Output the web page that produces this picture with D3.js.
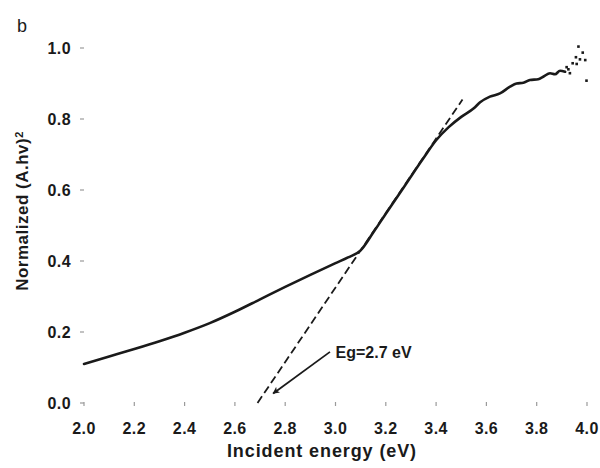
<!DOCTYPE html>
<html>
<head>
<meta charset="utf-8">
<script src="https://cdn.jsdelivr.net/npm/d3@7"></script>
<style>
  html, body { margin: 0; padding: 0; background: #fff; }
  svg { display: block; font-family: "Liberation Sans", Arial, Helvetica, sans-serif; }
</style>
</head>
<body>
<svg id="chart" width="600" height="468"></svg>
<script>
// ---- data ----
const xTicks = [2.0, 2.2, 2.4, 2.6, 2.8, 3.0, 3.2, 3.4, 3.6, 3.8, 4.0];
const yTicks = [0.0, 0.2, 0.4, 0.6, 0.8, 1.0];
const curveEnergy = [2.00, 2.10, 2.20, 2.30, 2.40, 2.50, 2.60, 2.70, 2.80, 2.90, 3.00, 3.05, 3.10, 3.15, 3.20, 3.25, 3.30, 3.35, 3.40, 3.45, 3.50, 3.55, 3.575, 3.614, 3.654, 3.694, 3.720, 3.747, 3.773, 3.806, 3.826, 3.853, 3.873, 3.893, 3.913];
const curveValue  = [0.110, 0.131, 0.152, 0.174, 0.198, 0.225, 0.257, 0.292, 0.327, 0.361, 0.394, 0.410, 0.430, 0.480, 0.533, 0.585, 0.638, 0.690, 0.740, 0.777, 0.806, 0.830, 0.847, 0.863, 0.872, 0.891, 0.900, 0.902, 0.910, 0.912, 0.919, 0.929, 0.926, 0.936, 0.933];
const dotEnergy = [3.919, 3.926, 3.932, 3.943, 3.956, 3.959, 3.966, 3.972, 3.983, 3.993, 3.998];
const dotValue  = [0.946, 0.940, 0.929, 0.957, 0.974, 0.955, 1.004, 0.968, 0.987, 0.966, 0.908];
const tangentEnergy = [2.69, 3.505];
const tangentValue  = [0.0, 0.855];
const annotText = "Eg=2.7 eV";
const annotFrom = [2.978, 0.144];
const annotTo   = [2.752, 0.027];
const annotTextPos = [3.000, 0.127];
const xTitle = "Incident energy (eV)";
const panelLabel = "b";

// ---- scales ----
const svg = d3.select("#chart");
const x = d3.scaleLinear().domain([2, 4]).range([84, 587]);
const y = d3.scaleLinear().domain([0, 1]).range([403, 48]);
const ink = "#1a1a1a";
const tickGrey = "#9a9a9a";

// y ticks
const yAxis = svg.append("g");
yAxis.selectAll("line").data(yTicks).join("line")
  .attr("x1", 80).attr("x2", 84)
  .attr("y1", d => y(d)).attr("y2", d => y(d))
  .attr("stroke", tickGrey).attr("stroke-width", 1.2);
yAxis.selectAll("text").data(yTicks).join("text")
  .attr("x", 71).attr("y", d => y(d)).attr("dy", "0.36em")
  .attr("text-anchor", "end").attr("font-size", 16).attr("font-weight", "bold")
  .attr("letter-spacing", 0.4)
  .attr("fill", ink).text(d => d3.format(".1f")(d));

// x ticks
const xAxis = svg.append("g");
xAxis.selectAll("line").data(xTicks).join("line")
  .attr("x1", d => x(d)).attr("x2", d => x(d))
  .attr("y1", 402).attr("y2", 406)
  .attr("stroke", tickGrey).attr("stroke-width", 1.2);
xAxis.selectAll("text").data(xTicks).join("text")
  .attr("x", d => x(d)).attr("y", 434)
  .attr("text-anchor", "middle").attr("font-size", 16).attr("font-weight", "bold")
  .attr("letter-spacing", 0.4)
  .attr("fill", ink).text(d => d3.format(".1f")(d));

// titles
svg.append("text").attr("x", 322).attr("y", 457).attr("text-anchor", "middle")
  .attr("font-size", 18).attr("font-weight", "bold").attr("letter-spacing", 0.9)
  .attr("fill", ink).text(xTitle);
const yt = svg.append("text").attr("transform", "translate(28,211) rotate(-90)")
  .attr("text-anchor", "middle").attr("font-size", 17).attr("font-weight", "bold")
  .attr("letter-spacing", 0.5).attr("fill", ink);
yt.append("tspan").text("Normalized (A.hv)");
yt.append("tspan").attr("dy", "-0.45em").attr("font-size", 11).text("2");
svg.append("text").attr("x", 17).attr("y", 32).attr("font-size", 18)
  .attr("fill", ink).text(panelLabel);

// tangent dashed line
const tangentData = tangentEnergy.map((e, i) => [e, tangentValue[i]]);
svg.append("path").datum(tangentData)
  .attr("d", d3.line().x(d => x(d[0])).y(d => y(d[1])))
  .attr("fill", "none").attr("stroke", ink).attr("stroke-width", 1.8)
  .attr("stroke-dasharray", "8,4");

// main curve
const curveData = curveEnergy.map((e, i) => [e, curveValue[i]]);
svg.append("path").datum(curveData)
  .attr("d", d3.line().x(d => x(d[0])).y(d => y(d[1])).curve(d3.curveMonotoneX))
  .attr("fill", "none").attr("stroke", ink).attr("stroke-width", 2.6)
  .attr("stroke-linejoin", "round").attr("stroke-linecap", "round");

// scattered tail points
const dotData = dotEnergy.map((e, i) => [e, dotValue[i]]);
svg.append("g").selectAll("rect").data(dotData).join("rect")
  .attr("x", d => x(d[0]) - 1.3).attr("y", d => y(d[1]) - 1.3)
  .attr("width", 2.6).attr("height", 2.6).attr("fill", ink);

// annotation arrow
const defs = svg.append("defs");
defs.append("marker").attr("id", "arrow").attr("viewBox", "0 0 10 10")
  .attr("refX", 9).attr("refY", 5).attr("markerWidth", 7).attr("markerHeight", 7)
  .attr("markerUnits", "userSpaceOnUse").attr("orient", "auto")
  .append("path").attr("d", "M0,0 L10,5 L0,10 L2.5,5 Z").attr("fill", ink);
svg.append("line")
  .attr("x1", x(annotFrom[0])).attr("y1", y(annotFrom[1]))
  .attr("x2", x(annotTo[0])).attr("y2", y(annotTo[1]))
  .attr("stroke", ink).attr("stroke-width", 1.8).attr("marker-end", "url(#arrow)");
svg.append("text").attr("x", x(annotTextPos[0])).attr("y", y(annotTextPos[1]))
  .attr("font-size", 16).attr("font-weight", "bold").attr("fill", ink).text(annotText);
</script>
</body>
</html>
